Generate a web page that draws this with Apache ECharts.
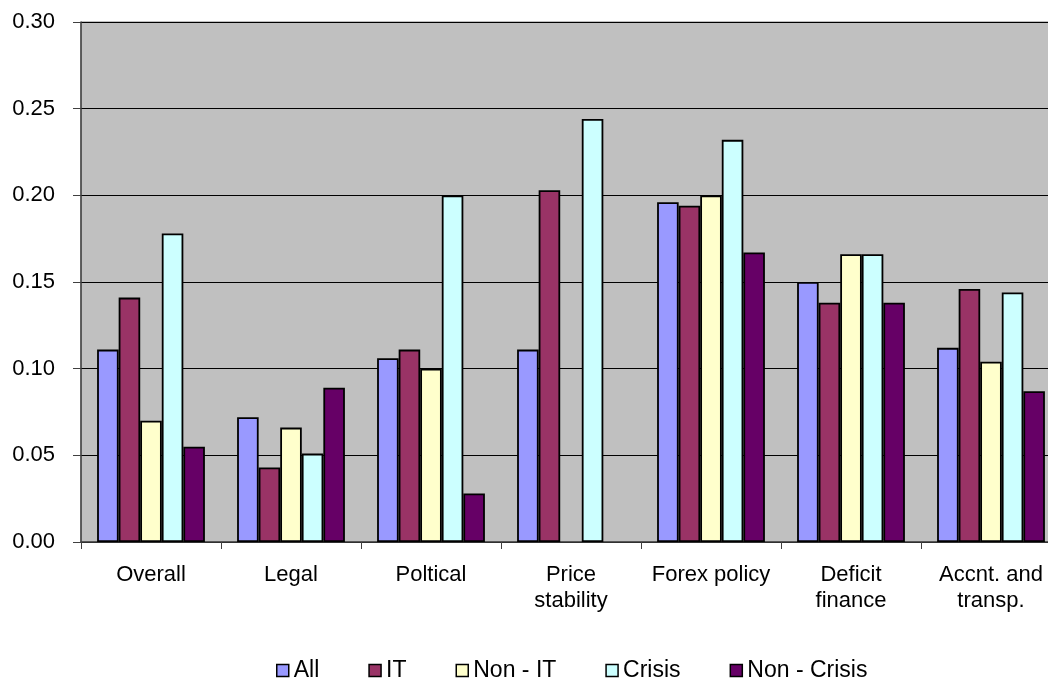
<!DOCTYPE html>
<html>
<head>
<meta charset="utf-8">
<script src="https://cdn.jsdelivr.net/npm/echarts@6/dist/echarts.min.js"></script>
<style>html,body{margin:0;padding:0;background:#fff;overflow:hidden}#c{width:1048px;height:680px}</style>
</head>
<body>
<div id="c"></div>
<script>
var categories = ['Overall', 'Legal', 'Poltical', 'Price\nstability', 'Forex policy', 'Deficit\nfinance', 'Accnt. and\ntransp.'];
var seriesNames = ['All', 'IT', 'Non - IT', 'Crisis', 'Non - Crisis'];
var allVals = [0.111, 0.072, 0.106, 0.111, 0.196, 0.150, 0.112];
var itVals = [0.141, 0.043, 0.111, 0.203, 0.194, 0.138, 0.146];
var nonItVals = [0.070, 0.066, 0.100, null, 0.200, 0.166, 0.104];
var crisisVals = [0.178, 0.051, 0.200, 0.244, 0.232, 0.166, 0.144];
var nonCrisisVals = [0.055, 0.089, 0.028, null, 0.167, 0.138, 0.087];
var colors = ['#9999FF', '#993366', '#FFFFCC', '#CCFFFF', '#660066'];
var yTicks = { min: 0, max: 0.30, interval: 0.05 };

var dataSets = [allVals, itVals, nonItVals, crisisVals, nonCrisisVals];
var font = 'Liberation Sans, Arial, sans-serif';
var chart = echarts.init(document.getElementById('c'));
chart.setOption({
  animation: false,
  textStyle: { fontFamily: font },
  grid: { left: 81, top: 22, width: 980, height: 520, outerBoundsMode: 'none', containLabel: false, show: true, backgroundColor: '#C0C0C0', borderColor: '#808080', borderWidth: 1 },
  legend: {
    left: 271, top: 654,
    itemWidth: 12, itemHeight: 12, itemGap: 49,
    icon: 'rect',
    textStyle: { fontSize: 23, color: '#000', fontFamily: font },
    data: seriesNames.map(function (n, i) { return { name: n, itemStyle: { color: colors[i], borderColor: '#000', borderWidth: 1.5 } }; })
  },
  xAxis: {
    type: 'category',
    data: categories,
    axisLine: { show: true, lineStyle: { color: '#404040', width: 1.5 } },
    axisTick: { show: true, alignWithLabel: false, length: 7, lineStyle: { color: '#404040' } },
    axisLabel: { fontSize: 22, color: '#000', margin: 20, lineHeight: 26, fontFamily: font, interval: 0 }
  },
  yAxis: {
    type: 'value',
    min: yTicks.min, max: yTicks.max, interval: yTicks.interval,
    axisLine: { show: true, lineStyle: { color: '#404040', width: 1.5 } },
    axisTick: { show: true, length: 8, lineStyle: { color: '#404040' } },
    splitLine: { show: true, lineStyle: { color: '#000', width: 1 } },
    axisLabel: { fontSize: 22, color: '#000', margin: 26, fontFamily: font, formatter: function (v) { return v.toFixed(2); } }
  },
  series: dataSets.map(function (d, i) {
    return {
      name: seriesNames[i], type: 'bar', data: d,
      barGap: '0%', barCategoryGap: '23%',
      itemStyle: { color: colors[i], borderColor: '#000', borderWidth: 1.8 }
    };
  })
});
</script>
</body>
</html>
